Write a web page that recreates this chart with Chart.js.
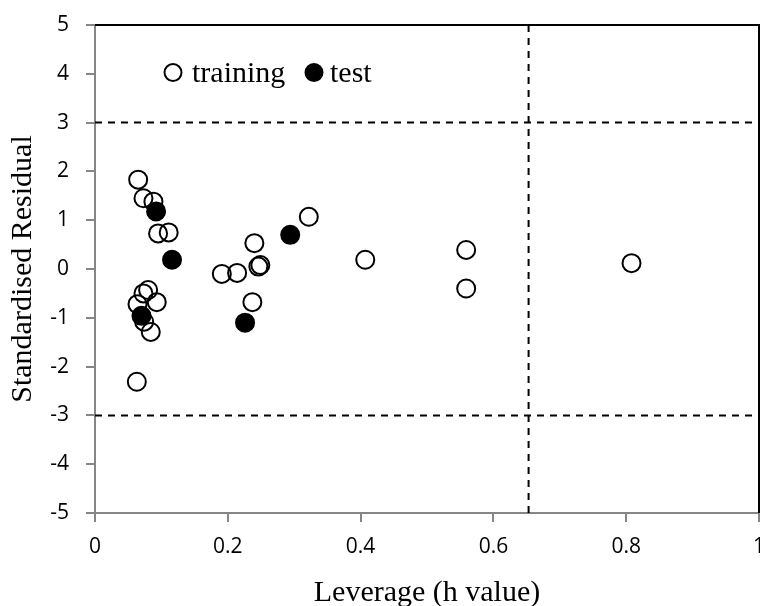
<!DOCTYPE html>
<html>
<head>
<meta charset="utf-8">
<script src="https://cdn.jsdelivr.net/npm/chart.js@4"></script>
<style>
html,body{margin:0;padding:0;background:#fff;}
#wrap{width:760px;height:606px;position:relative;}
</style>
</head>
<body>
<div id="wrap"><canvas id="c" width="760" height="606"></canvas></div>
<script>
// ---- data ----
const trainingLeverage = [0.065, 0.073, 0.088, 0.095, 0.111, 0.191, 0.214, 0.240, 0.246, 0.249, 0.322, 0.237, 0.063, 0.080, 0.073, 0.093, 0.064, 0.074, 0.084, 0.407, 0.559, 0.559, 0.808];
const trainingResidual = [1.83, 1.45, 1.38, 0.73, 0.75, -0.10, -0.08, 0.53, 0.05, 0.08, 1.07, -0.68, -2.31, -0.43, -0.50, -0.68, -0.72, -1.08, -1.29, 0.19, 0.39, -0.40, 0.12];
const testLeverage = [0.092, 0.116, 0.294, 0.226, 0.070];
const testResidual = [1.18, 0.19, 0.70, -1.10, -0.96];
const residualLimits = [-3, 3];
const leverageWarning = 0.653;
const xTickLabels = ['0', '0.2', '0.4', '0.6', '0.8', '1'];
const yTickLabels = ['-5', '-4', '-3', '-2', '-1', '0', '1', '2', '3', '4', '5'];
const seriesNames = ['training', 'test'];
const xTitle = 'Leverage (h value)';
const yTitle = 'Standardised Residual';

// ---- build ----
const toPoints = (xs, ys) => xs.map((x, i) => ({x: x, y: ys[i]}));
const dashStyle = {showLine: true, borderColor: '#000', borderWidth: 2, borderDash: [7, 6], pointRadius: 0, fill: false, order: 3};

const datasets = [
  Object.assign({label: 'limit-low', data: [{x: 0, y: residualLimits[0]}, {x: 1, y: residualLimits[0]}]}, dashStyle),
  Object.assign({label: 'limit-high', data: [{x: 0, y: residualLimits[1]}, {x: 1, y: residualLimits[1]}]}, dashStyle),
  Object.assign({label: 'h*', data: [{x: leverageWarning, y: -5}, {x: leverageWarning, y: 5}]}, dashStyle),
  {label: seriesNames[0], data: toPoints(trainingLeverage, trainingResidual), pointRadius: 9, pointBorderWidth: 2,
   pointBackgroundColor: 'rgba(0,0,0,0)', pointBorderColor: '#000', order: 2},
  {label: seriesNames[1], data: toPoints(testLeverage, testResidual), pointRadius: 9, pointBorderWidth: 2,
   pointBackgroundColor: '#000', pointBorderColor: '#000', order: 1}
];

const frame = {
  id: 'frame',
  afterDraw(chart) {
    const a = chart.chartArea, ctx = chart.ctx;
    ctx.save();
    ctx.strokeStyle = '#000';
    ctx.lineWidth = 2;
    ctx.beginPath();
    ctx.moveTo(a.left, a.top);
    ctx.lineTo(a.right, a.top);
    ctx.lineTo(a.right, a.bottom);
    ctx.stroke();
    ctx.restore();
  }
};

const legendBox = {
  id: 'legendBox',
  afterDraw(chart) {
    const a = chart.chartArea, ctx = chart.ctx;
    const cy = a.top + 47.5;
    ctx.save();
    ctx.lineWidth = 2;
    ctx.strokeStyle = '#000';
    ctx.fillStyle = '#000';
    ctx.beginPath();
    ctx.arc(a.left + 78, cy, 8.5, 0, Math.PI * 2);
    ctx.stroke();
    ctx.beginPath();
    ctx.arc(a.left + 219, cy, 8.5, 0, Math.PI * 2);
    ctx.fill();
    ctx.stroke();
    ctx.font = '30px "Liberation Serif", "Times New Roman", serif';
    ctx.textBaseline = 'alphabetic';
    ctx.textAlign = 'left';
    ctx.fillText(seriesNames[0], a.left + 97, a.top + 57);
    ctx.fillText(seriesNames[1], a.left + 235, a.top + 57);
    ctx.restore();
  }
};

const axisGray = '#868686';
new Chart(document.getElementById('c'), {
  type: 'scatter',
  data: {datasets: datasets},
  options: {
    responsive: false,
    devicePixelRatio: 1,
    animation: false,
    events: [],
    layout: {autoPadding: false, padding: {left: 0, right: 1, top: 25, bottom: 0}},
    plugins: {legend: {display: false}, tooltip: {enabled: false}},
    scales: {
      x: {
        type: 'linear', min: 0, max: 1,
        ticks: {stepSize: 0.2, autoSkip: false, maxRotation: 0, color: '#000', padding: 12,
                font: {family: '"Open Sans", sans-serif', size: 21},
                callback: (v, i) => xTickLabels[i]},
        grid: {drawOnChartArea: false, drawTicks: true, tickLength: 9, color: axisGray, lineWidth: 2},
        border: {color: axisGray, width: 2},
        title: {display: true, text: xTitle, color: '#000', padding: {top: 0, bottom: -5},
                font: {family: '"Liberation Serif", "Times New Roman", serif', size: 30}},
        afterFit: s => { s.height = 93; s.paddingLeft = 0; s.paddingRight = 0; }
      },
      y: {
        type: 'linear', min: -5, max: 5,
        ticks: {stepSize: 1, autoSkip: false, color: '#000', padding: 17,
                font: {family: '"Open Sans", sans-serif', size: 21},
                callback: (v, i) => yTickLabels[i]},
        grid: {drawOnChartArea: false, drawTicks: true, tickLength: 9, color: axisGray, lineWidth: 2},
        border: {color: axisGray, width: 2},
        title: {display: true, text: yTitle, color: '#000', padding: {top: 5, bottom: 0},
                font: {family: '"Liberation Serif", "Times New Roman", serif', size: 30}},
        afterFit: s => { s.width = 95; s.paddingTop = 0; s.paddingBottom = 0; }
      }
    }
  },
  plugins: [frame, legendBox]
});
</script>
</body>
</html>
